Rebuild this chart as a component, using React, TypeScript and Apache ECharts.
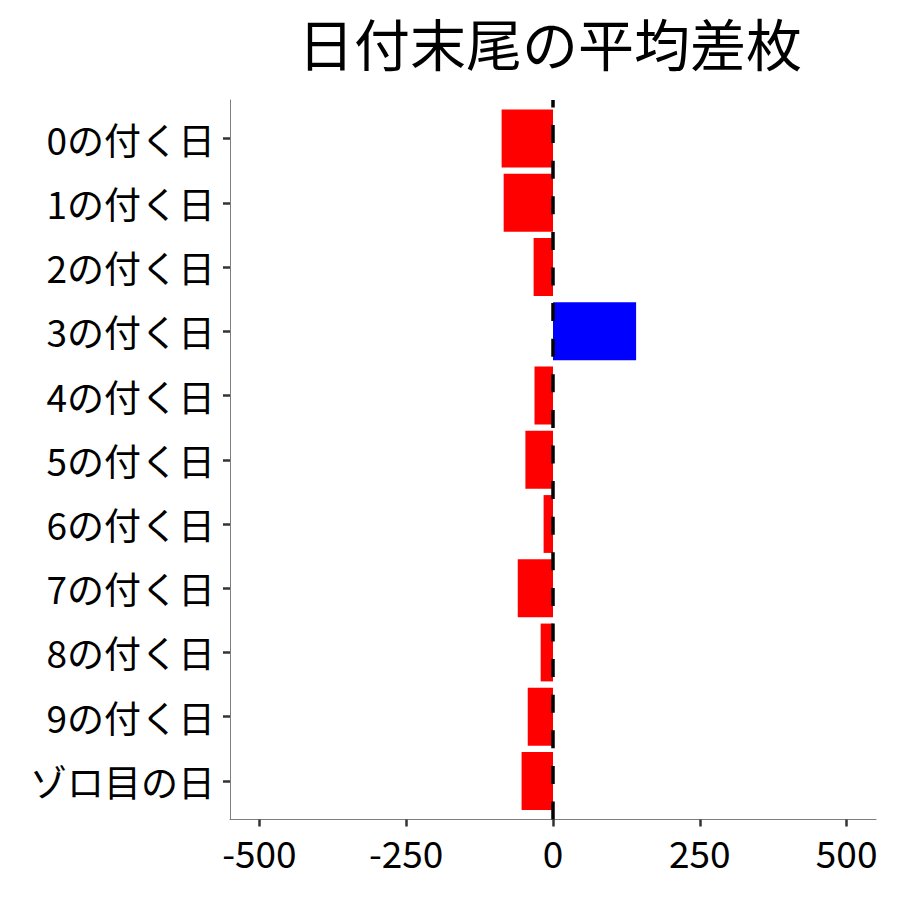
import React, { useEffect, useRef } from 'react';
import * as echarts from 'echarts';

const FONT = '"Noto Sans CJK JP", "Noto Sans", sans-serif';

const categories = [
  '0の付く日',
  '1の付く日',
  '2の付く日',
  '3の付く日',
  '4の付く日',
  '5の付く日',
  '6の付く日',
  '7の付く日',
  '8の付く日',
  '9の付く日',
  'ゾロ目の日',
];
const avgDiff = [-87.5, -84, -33, 141.5, -31.5, -47, -16, -60, -21, -43, -53.5];
const xTicks = [-500, -250, 0, 250, 500];
const xMin = -550;
const xMax = 550;

export default function App() {
  const chartRef = useRef<HTMLDivElement>(null);

  useEffect(() => {
    if (!chartRef.current) return;
    document.body.style.margin = '0';
    const chart = echarts.init(chartRef.current, null, { renderer: 'svg' });

    const bars = avgDiff.map((v) => ({
      value: v,
      itemStyle: { color: v >= 0 ? '#0000ff' : '#ff0000' },
    }));

    const option: echarts.EChartsOption = {
      animation: false,
      backgroundColor: '#ffffff',
      title: {
        text: '日付末尾の平均差枚',
        left: 545,
        top: 8,
        textAlign: 'center',
        textStyle: { fontFamily: FONT, fontSize: 56, fontWeight: 'normal', color: '#000' },
      },
      grid: [
        // bars: band size matches ggplot's 0.6 expansion
        { left: 230, right: 24, top: 106.4, height: 706.7, outerBoundsMode: 'none' } as any,
        // panel frame
        { left: 230, right: 24, top: 100, height: 719.5, outerBoundsMode: 'none' } as any,
      ],
      xAxis: [
        { type: 'value', gridIndex: 0, min: xMin, max: xMax, show: false },
        {
          type: 'value',
          gridIndex: 1,
          min: xMin,
          max: xMax,
          axisLine: { show: true, onZero: false, lineStyle: { color: '#7f7f7f', width: 1 } },
          axisTick: {
            show: true,
            length: 7,
            customValues: xTicks,
            lineStyle: { color: '#333', width: 2.5 },
          } as any,
          axisLabel: {
            customValues: xTicks,
            fontFamily: FONT,
            fontSize: 37,
            color: '#000',
            margin: 14,
          } as any,
          splitLine: { show: false },
        },
      ],
      yAxis: [
        {
          type: 'category',
          gridIndex: 0,
          data: categories,
          inverse: true,
          axisLine: { show: false, onZero: false },
          axisTick: {
            show: true,
            alignWithLabel: true,
            length: 7,
            lineStyle: { color: '#333', width: 2.5 },
          },
          axisLabel: { fontFamily: FONT, fontSize: 37, color: '#000', margin: 15 },
        },
        {
          type: 'value',
          gridIndex: 1,
          min: 0,
          max: 1,
          axisLine: { show: true, onZero: false, lineStyle: { color: '#7f7f7f', width: 1 } },
          axisTick: { show: false },
          axisLabel: { show: false },
          splitLine: { show: false },
        },
      ],
      series: [
        {
          type: 'bar',
          xAxisIndex: 0,
          yAxisIndex: 0,
          data: bars,
          barCategoryGap: '10%',
          silent: true,
        },
        {
          type: 'line',
          xAxisIndex: 1,
          yAxisIndex: 1,
          data: [[0, 0]],
          symbol: 'none',
          silent: true,
          z: 5,
          markLine: {
            silent: true,
            symbol: ['none', 'none'],
            label: { show: false },
            lineStyle: { color: '#000', width: 3.5, type: [18, 17.6] },
            emphasis: { disabled: true },
            data: [{ xAxis: 0 }],
          },
        },
      ],
    };

    chart.setOption(option);
    return () => chart.dispose();
  }, []);

  return <div ref={chartRef} style={{ width: 900, height: 900 }} />;
}
